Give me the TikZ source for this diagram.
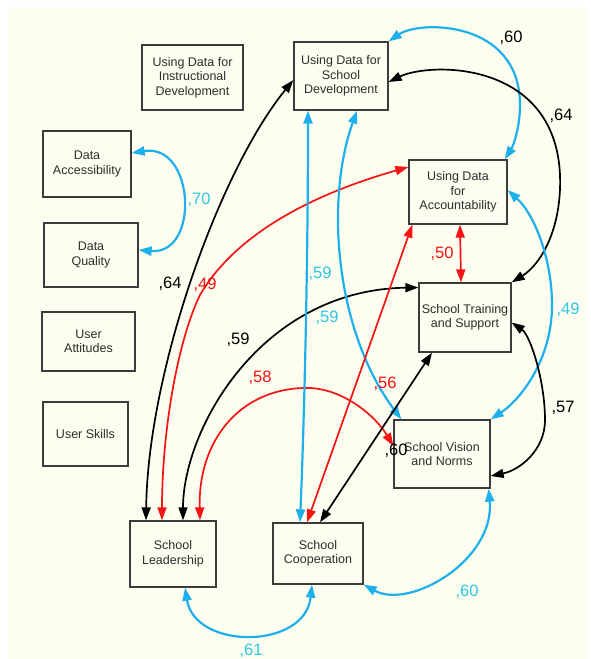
\documentclass[tikz,border=0pt]{standalone}
\usepackage{fontspec}
\setmainfont{Liberation Sans}
\usetikzlibrary{arrows.meta}

\definecolor{paper}{RGB}{253,253,240}
\definecolor{cyanline}{RGB}{30,176,236}
\definecolor{cyantext}{RGB}{45,200,230}
\definecolor{redline}{RGB}{245,20,20}
\definecolor{boxline}{RGB}{60,60,60}
\definecolor{boxtext}{RGB}{45,45,45}

\tikzset{
  var/.style={draw=boxline, line width=1.3pt, fill=paper, align=center,
    text=boxtext, font=\fontsize{12.5}{14.5}\selectfont, inner sep=0pt},
  cor/.style={line width=1.7pt,
    {Triangle[length=13pt,width=9pt]}-{Triangle[length=13pt,width=9pt]}},
  corb/.style={cor, draw=cyanline, line width=2.2pt},
  corr/.style={cor, draw=redline},
  cork/.style={cor, draw=black},
  val/.style={font=\fontsize{16.5}{18}\selectfont, inner sep=0pt},
}

\begin{document}
\begin{tikzpicture}[x=1pt, y=-1pt]
  % page and paper
  \fill[white] (0,0) rectangle (590,659);
  \fill[paper] (8,7) rectangle (586,659);
  \useasboundingbox (0,0) rectangle (590,659);

  % variables
  \node[var, minimum width=101pt, minimum height=65pt] (instr) at (192.5,77.5) {Using Data for\\Instructional\\Development};
  \node[var, minimum width=88pt, minimum height=66pt] (acc) at (87,164) {Data\\Accessibility};
  \node[var, minimum width=94pt, minimum height=64pt] (qual) at (91,255) {Data\\Quality};
  \node[var, minimum width=93pt, minimum height=59pt] (att) at (88.5,341.5) {User\\Attitudes};
  \node[var, minimum width=85pt, minimum height=64pt] (skills) at (85.5,434) {User Skills};
  \node[var, minimum width=94pt, minimum height=68pt] (dev) at (341,76) {Using Data for\\School\\Development};
  \node[var, minimum width=98pt, minimum height=64pt] (acct) at (458,192) {Using Data\\for\\Accountability};
  \node[var, minimum width=92pt, minimum height=69pt] (train) at (465,317.5) {School Training\\and Support};
  \node[var, minimum width=96pt, minimum height=68pt] (vis) at (442,454) {School Vision\\and Norms};
  \node[var, minimum width=86pt, minimum height=66pt] (lead) at (173,554) {School\\Leadership};
  \node[var, minimum width=90pt, minimum height=61pt] (coop) at (318,553.5) {School\\Cooperation};

  % correlations
  \draw[corb] ([yshift=11pt]acc.east) .. controls (195,143) and (200,255) .. ([yshift=5pt]qual.east);
  \draw[corb] (dev.north east) .. controls (420,20) and (520,20) .. (520,105)
              .. controls (520,130) and (512,148) .. ([xshift=-3pt]acct.north east);
  \draw[cork] ([yshift=-6pt]dev.east) .. controls (430,62) and (555,60) .. (560,175)
              .. controls (562,230) and (540,265) .. (train.north east);
  \draw[corr] ([xshift=2pt]acct.south) -- ([xshift=-4pt]train.north);
  \draw[corb] ([yshift=2pt]acct.east) .. controls (535,215) and (552,260) .. (552,305)
              .. controls (552,360) and (520,400) .. (vis.north east);
  \draw[cork] ([yshift=-5pt]train.east) .. controls (530,335) and (545,380) .. (545,420)
              .. controls (545,450) and (520,470) .. ([yshift=-22pt]vis.east);
  \draw[corb] ([xshift=-2pt]vis.south east) .. controls (495,560) and (410,610) .. (coop.south east);
  \draw[corb] ([xshift=12pt]lead.south) .. controls (195,650) and (305,650) .. ([xshift=-6pt]coop.south);
  \draw[cork] ([xshift=-27pt]lead.north) .. controls (148,370) and (220,170) .. ([yshift=-4pt]dev.west);
  \draw[corr] ([xshift=-11pt]lead.north) .. controls (162,430) and (178,340) .. (200,295)
              .. controls (235,235) and (310,195) .. ([yshift=25pt]acct.west);
  \draw[cork] ([xshift=10pt]lead.north) .. controls (183,430) and (260,290) .. ([yshift=30pt]train.west);
  \draw[corr] ([xshift=27pt]lead.north) .. controls (198,440) and (240,390) .. (303,388)
              .. controls (340,386) and (375,415) .. ([yshift=8pt]vis.west);
  \draw[corb] ([xshift=-18pt]coop.north) .. controls (305,400) and (308,250) .. ([xshift=-33pt]dev.south);
  \draw[corb] ([xshift=8pt]vis.north west) .. controls (335,330) and (325,200) .. ([xshift=16pt]dev.south);
  \draw[corr] ([xshift=-11pt]coop.north) -- ([xshift=4pt]acct.south west);
  \draw[cork] ([xshift=2pt]coop.north) -- ([xshift=-33pt]train.south);

  % coefficients
  \node[val, text=cyantext] (l70) at (199,200) {,70};
  \node[val] (l60a) at (511,38) {,60};
  \node[val] (l64a) at (561,116) {,64};
  \node[val, text=redline] (l50) at (442,254) {,50};
  \node[val, text=cyantext] (l49a) at (568,310) {,49};
  \node[val] (l57) at (563,408) {,57};
  \node[val, text=cyantext] (l60b) at (467,592) {,60};
  \node[val, text=cyantext] (l61) at (251,651) {,61};
  \node[val] (l64b) at (170,284) {,64};
  \node[val, text=redline] (l49b) at (205,285) {,49};
  \node[val] (l59a) at (238,340) {,59};
  \node[val, text=redline] (l58) at (260,378) {,58};
  \node[val, text=cyantext] (l59b) at (320,274) {,59};
  \node[val, text=cyantext] (l59c) at (327,318) {,59};
  \node[val, text=redline] (l56) at (385,384) {,56};
  \node[val] (l60c) at (396,451) {,60};
\end{tikzpicture}
\end{document}
